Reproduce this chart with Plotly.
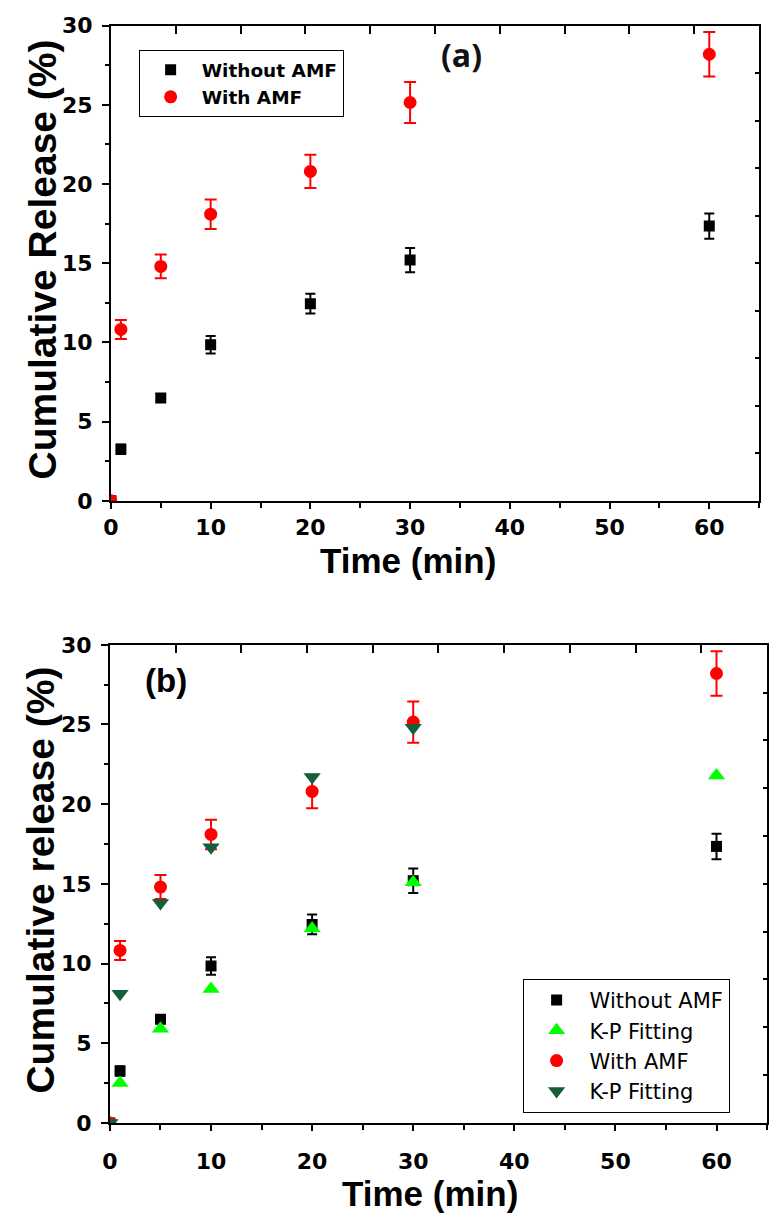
import plotly.graph_objects as go

# ---------------- data ----------------
time = [0, 1, 5, 10, 20, 30, 60]
without_amf = [0, 3.25, 6.5, 9.85, 12.45, 15.2, 17.35]
without_err = [0, 0.3, 0.25, 0.55, 0.62, 0.77, 0.8]
with_amf = [0, 10.82, 14.8, 18.1, 20.8, 25.15, 28.2]
with_err = [0, 0.6, 0.75, 0.93, 1.05, 1.3, 1.4]
kp_without_time = [0, 1, 5, 10, 20, 30, 60]
kp_without = [0, 2.5, 5.9, 8.4, 12.2, 15.1, 21.8]
kp_with_time = [0, 1, 5, 10, 20, 30]
kp_with = [0, 8.1, 13.8, 17.3, 21.7, 24.8]

x_ticks = [0, 10, 20, 30, 40, 50, 60]
y_ticks = [0, 5, 10, 15, 20, 25, 30]

W, H = 772, 1226
FONT = "Liberation Sans, Arial, sans-serif"
WIDE = "DejaVu Sans, sans-serif"
BLACK = "#000000"
RED = "#FF0000"
GREEN = "#00FF00"
DKGREEN = "#145E3A"


def px_x(p):
    return p / W


def px_y(p):
    return 1 - p / H


fig = go.Figure()

# ---------- panel (a) ----------
fig.add_trace(go.Scatter(
    x=time, y=without_amf, mode="markers", name="Without AMF",
    marker=dict(symbol="square", size=11, color=BLACK),
    error_y=dict(type="data", array=without_err, color=BLACK, thickness=2, width=5),
    xaxis="x", yaxis="y", legend="legend"))
fig.add_trace(go.Scatter(
    x=time, y=with_amf, mode="markers", name="With AMF",
    marker=dict(symbol="circle", size=13, color=RED),
    error_y=dict(type="data", array=with_err, color=RED, thickness=2, width=6),
    xaxis="x", yaxis="y", legend="legend"))
fig.add_trace(go.Scatter(x=[None], y=[None], xaxis="x3", yaxis="y3",
                         showlegend=False, hoverinfo="skip"))

# ---------- panel (b) ----------
fig.add_trace(go.Scatter(
    x=time, y=without_amf, mode="markers", name="Without AMF",
    marker=dict(symbol="square", size=11, color=BLACK),
    error_y=dict(type="data", array=without_err, color=BLACK, thickness=2, width=5),
    xaxis="x2", yaxis="y2", legend="legend2"))
fig.add_trace(go.Scatter(
    x=kp_without_time, y=kp_without, mode="markers", name="K-P Fitting",
    marker=dict(symbol="triangle-up", size=15, color=GREEN),
    xaxis="x2", yaxis="y2", legend="legend2"))
fig.add_trace(go.Scatter(
    x=time, y=with_amf, mode="markers", name="With AMF",
    marker=dict(symbol="circle", size=13, color=RED),
    error_y=dict(type="data", array=with_err, color=RED, thickness=2, width=6),
    xaxis="x2", yaxis="y2", legend="legend2"))
fig.add_trace(go.Scatter(
    x=kp_with_time, y=kp_with, mode="markers", name="K-P Fitting",
    marker=dict(symbol="triangle-down", size=15, color=DKGREEN),
    xaxis="x2", yaxis="y2", legend="legend2"))
fig.add_trace(go.Scatter(x=[None], y=[None], xaxis="x4", yaxis="y4",
                         showlegend=False, hoverinfo="skip"))

tickfont = dict(family=WIDE, size=22, color=BLACK, weight="bold")


def main_x(domain, anchor, standoff):
    return dict(domain=domain, anchor=anchor, range=[0, 65], tickmode="array",
                tickvals=x_ticks, ticks="outside", ticklen=6, tickwidth=2,
                tickcolor=BLACK, showline=True, linewidth=2, linecolor=BLACK,
                showgrid=False, zeroline=False, tickfont=tickfont,
                ticklabelstandoff=standoff,
                minor=dict(tickvals=[5, 15, 25, 35, 45, 55, 65], ticks="outside",
                           ticklen=5, tickwidth=2, tickcolor=BLACK, showgrid=False))


def main_y(domain, anchor):
    return dict(domain=domain, anchor=anchor, range=[0, 30], tickmode="array",
                tickvals=y_ticks, ticks="outside", ticklen=7, tickwidth=2,
                tickcolor=BLACK, showline=True, linewidth=2, linecolor=BLACK,
                showgrid=False, zeroline=False, tickfont=tickfont,
                ticklabelstandoff=5,
                minor=dict(tickvals=[2.5, 7.5, 12.5, 17.5, 22.5, 27.5], ticks="outside",
                           ticklen=4, tickwidth=2, tickcolor=BLACK, showgrid=False))


def top_x(over, anchor):
    return dict(overlaying=over, anchor=anchor, side="top", range=[0, 10],
                tick0=0, dtick=1, ticks="inside", ticklen=8, tickwidth=2,
                tickcolor=BLACK, showticklabels=False, showline=True,
                linewidth=2, linecolor=BLACK, showgrid=False, zeroline=False)


def right_y(over, anchor):
    return dict(overlaying=over, anchor=anchor, side="right", range=[0, 10],
                tick0=0, dtick=1, ticks="inside", ticklen=4, tickwidth=2,
                tickcolor=BLACK, showticklabels=False, showline=True,
                linewidth=2, linecolor=BLACK, showgrid=False, zeroline=False)


dom_xa = [px_x(104), px_x(759)]
dom_ya = [px_y(499), px_y(14)]
dom_xb = [px_x(103), px_x(767)]
dom_yb = [px_y(1134), px_y(646)]

title_font = dict(family=FONT, size=35, color=BLACK, weight="bold")

annotations = [
    dict(text="Time (min)", x=px_x(404), y=px_y(560), xref="paper", yref="paper",
         showarrow=False, font=title_font, xanchor="center", yanchor="middle"),
    dict(text="Cumulative Release (%)", x=px_x(35), y=px_y(253), xref="paper",
         yref="paper", showarrow=False, font=dict(family=FONT, size=39, color=BLACK, weight="bold"),
         textangle=-90, xanchor="center", yanchor="middle"),
    dict(text="(a)", x=px_x(458), y=px_y(43), xref="paper", yref="paper",
         showarrow=False, font=dict(family="Open Sans, sans-serif", size=32, color="#111111", weight="bold"),
         xanchor="center", yanchor="middle"),
    dict(text="Time (min)", x=px_x(426), y=px_y(1206), xref="paper", yref="paper",
         showarrow=False, font=title_font, xanchor="center", yanchor="middle"),
    dict(text="Cumulative release (%)", x=px_x(33), y=px_y(886), xref="paper",
         yref="paper", showarrow=False, font=dict(family=FONT, size=39, color=BLACK, weight="bold"),
         textangle=-90, xanchor="center", yanchor="middle"),
    dict(text="(b)", x=px_x(160), y=px_y(682), xref="paper", yref="paper",
         showarrow=False, font=dict(family=FONT, size=33, color=BLACK, weight="bold"),
         xanchor="center", yanchor="middle"),
]

fig.update_layout(
    width=W, height=H, margin=dict(l=0, r=0, t=0, b=0),
    paper_bgcolor="white", plot_bgcolor="white",
    xaxis=main_x(dom_xa, "y", 0),
    yaxis=main_y(dom_ya, "x"),
    xaxis3=top_x("x", "y"),
    yaxis3=right_y("y", "x"),
    xaxis2=main_x(dom_xb, "y2", 12),
    yaxis2=main_y(dom_yb, "x2"),
    xaxis4=top_x("x2", "y2"),
    yaxis4=right_y("y2", "x2"),
    legend=dict(x=px_x(132), y=px_y(39), xanchor="left", yanchor="top",
                bordercolor=BLACK, borderwidth=1, bgcolor="white", itemwidth=52,
                font=dict(family=WIDE, size=18.5, color=BLACK, weight="bold"),
                tracegroupgap=0, itemclick=False),
    legend2=dict(x=px_x(520), y=px_y(987), xanchor="left", yanchor="top",
                 bordercolor=BLACK, borderwidth=1, bgcolor="white", itemwidth=56,
                 font=dict(family=WIDE, size=21, color=BLACK),
                 tracegroupgap=0, itemclick=False),
    annotations=annotations,
    showlegend=True,
)

fig.write_html(
    "out.html",
    config={"displayModeBar": False},
    post_script="document.body.style.margin='0';document.body.style.overflow='hidden';",
)
